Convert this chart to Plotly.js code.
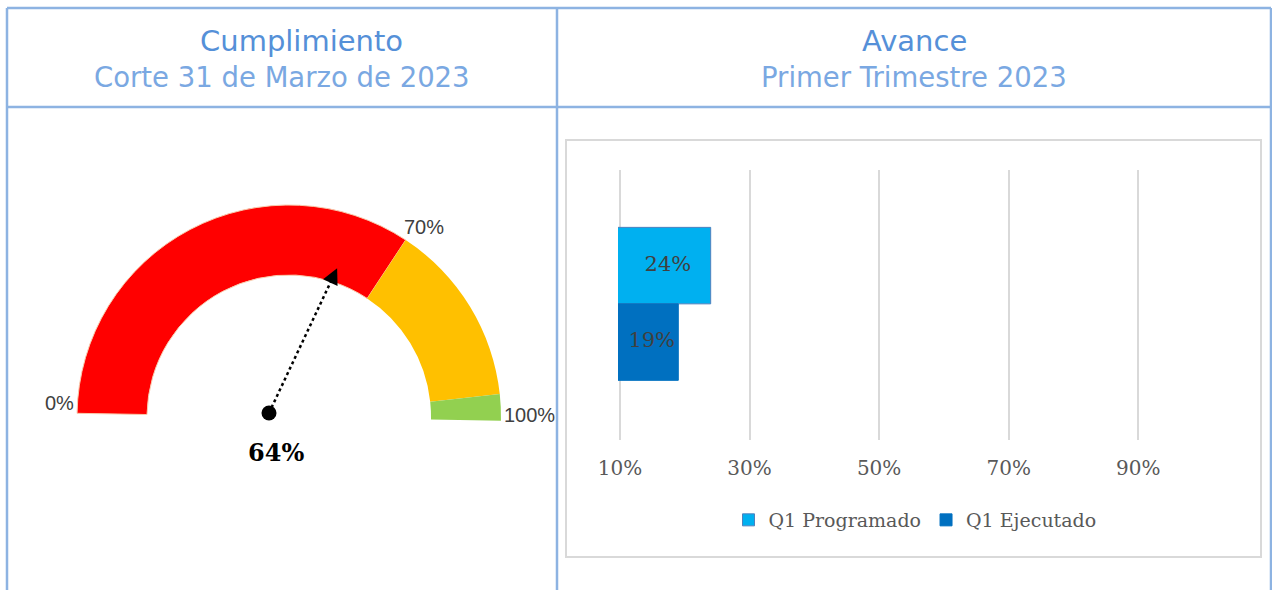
<!DOCTYPE html>
<html>
<head>
<meta charset="utf-8">
<script src="https://cdn.plot.ly/plotly-3.0.1.min.js"></script>
<style>
  html, body { margin: 0; padding: 0; background: #fff; overflow: hidden; }
  #chart { width: 1272px; height: 640px; }
</style>
</head>
<body>
<div id="chart"></div>
<script>
// gauge data (left cell)
let gaugeBands = ['Bajo', 'Medio', 'Alto'];
let gaugeValues = [68, 28, 4];
let gaugeColors = ['#ff0000', '#ffc000', '#92d050'];
let gaugeLabels = ['0%', '70%', '100%'];
let cumplimiento = 0.64;

// bar data (right cell)
let series = ['Q1 Programado', 'Q1 Ejecutado'];
let avance = [0.24, 0.19];
let barColors = ['#00b0f0', '#0070c0'];
let xTicks = [0.1, 0.3, 0.5, 0.7, 0.9];

let W = 1272, H = 640;
function px(x) { return x / W; }
function py(y) { return 1 - y / H; }

let border = '#8db3e2';
let xMin = 0.1;
let xLo = 0.097; // a hair below 10% so the first gridline is kept

// ---- gauge as a half pie ----
let total = gaugeValues.reduce((a, b) => a + b, 0);
let gauge = {
    type: 'pie',
    labels: gaugeBands.concat(['']),
    values: gaugeValues.concat([total]),
    marker: {
        colors: gaugeColors.concat(['rgba(0,0,0,0)']),
        line: { color: ['#f8cbad', 'rgba(0,0,0,0)', 'rgba(0,0,0,0)', 'rgba(0,0,0,0)'], width: [1, 0, 0, 0] }
    },
    hole: 0.67,
    sort: false,
    direction: 'clockwise',
    rotation: -89,
    textinfo: 'none',
    hoverinfo: 'skip',
    showlegend: false,
    domain: { x: [px(77), px(501)], y: [py(629), py(205)] }
};

// needle pivot (pixel-like hidden axes x2/y2)
let pivot = [269, 413];
let theta = Math.PI * (1 - cumplimiento);
let len = 160;
let tip = [pivot[0] + len * Math.cos(theta), pivot[1] - len * Math.sin(theta)];
let back = [pivot[0] + (len - 12) * Math.cos(theta), pivot[1] - (len - 12) * Math.sin(theta)];

let dot = {
    type: 'scatter', mode: 'markers',
    x: [pivot[0]], y: [pivot[1]],
    xaxis: 'x2', yaxis: 'y2',
    marker: { size: 15, color: '#000' },
    cliponaxis: false, hoverinfo: 'skip', showlegend: false
};

// ---- bars ----
let bars = series.map((name, i) => ({
    type: 'bar',
    orientation: 'h',
    name: name,
    x: [avance[i]],
    y: [1 - i],
    width: 1,
    marker: { color: barColors[i], line: { color: i == 0 ? '#4f81bd' : barColors[i], width: 1 } },
    hoverinfo: 'skip'
}));

let barText = {
    type: 'scatter', mode: 'text',
    x: avance.map(v => (xMin + v) / 2 + 0.004),
    y: series.map((s, i) => 1 - i),
    text: avance.map(v => Math.round(v * 100) + '%'),
    textfont: { family: 'DejaVu Serif', size: 21, color: '#404040' },
    cliponaxis: false, hoverinfo: 'skip', showlegend: false
};

let data = [gauge, ...bars, barText, dot];

// ---- frame lines ----
let shapes = [];
function line(x0, y0, x1, y1, color, width) {
    shapes.push({ type: 'line', xref: 'paper', yref: 'paper', x0: px(x0), y0: py(y0), x1: px(x1), y1: py(y1),
        line: { color: color, width: width } });
}
line(7, 8, 1271, 8, border, 2.5);
line(7, 107, 1271, 107, border, 2.5);
line(7, 8, 7, 640, border, 2.5);
line(557, 8, 557, 640, border, 2.5);
line(1271, 8, 1271, 640, border, 2.5);
shapes.push({ type: 'rect', xref: 'paper', yref: 'paper', x0: px(566), y0: py(557), x1: px(1261), y1: py(140),
    line: { color: '#d9d9d9', width: 2 }, layer: 'below' });
// needle
shapes.push({ type: 'line', xref: 'x2', yref: 'y2', x0: pivot[0], y0: pivot[1], x1: back[0], y1: back[1],
    line: { color: '#000', width: 2.5, dash: 'dot' }, layer: 'above' });

// ---- texts ----
let annotations = [];
function label(text, x, y, font, anchor) {
    annotations.push({ text: text, x: px(x), y: py(y), xref: 'paper', yref: 'paper', showarrow: false,
        xanchor: anchor || 'center', yanchor: 'middle', font: font });
}
let titleFont = { family: 'DejaVu Sans', size: 29, color: '#5590d8' };
let subFont = { family: 'DejaVu Sans', size: 27.5, color: '#7aa8e2' };
label('Cumplimiento', 301, 41, titleFont);
label('Corte 31 de Marzo de 2023', 282, 77, subFont);
label('Avance', 914, 41, titleFont);
label('Primer Trimestre 2023', 914, 77, subFont);

let gFont = { family: 'Liberation Sans', size: 20, color: '#404040' };
label(gaugeLabels[0], 76, 403, gFont, 'right');
label(gaugeLabels[1], 402, 227, gFont, 'left');
label(gaugeLabels[2], 502, 415, gFont, 'left');
label('<b>' + Math.round(cumplimiento * 100) + '%</b>', 276, 452, { family: 'DejaVu Serif', size: 24, color: '#000' });

annotations.push({ text: '', xref: 'x2', yref: 'y2', axref: 'x2', ayref: 'y2',
    x: tip[0], y: tip[1], ax: back[0], ay: back[1], showarrow: true,
    arrowhead: 2, arrowsize: 1.6, arrowwidth: 2, arrowcolor: '#000', standoff: 0 });

let pxPerUnit = (1203 - 620) / (1.0 - xMin);
let layout = {
    width: W, height: H,
    margin: { l: 0, r: 0, t: 0, b: 0 },
    paper_bgcolor: '#fff',
    plot_bgcolor: 'rgba(0,0,0,0)',
    barmode: 'overlay',
    xaxis: {
        domain: [px(620 - (xMin - xLo) * pxPerUnit), px(1203)], range: [xLo, 1.0],
        tickvals: xTicks, tickformat: '.0%',
        showgrid: true, gridcolor: '#d9d9d9', gridwidth: 2,
        zeroline: false, showline: false, ticks: '',
        ticklabelstandoff: 14,
        tickfont: { family: 'DejaVu Serif', size: 20, color: '#595959' },
        fixedrange: true
    },
    yaxis: {
        domain: [py(440), py(170)], range: [-1.28, 2.25],
        visible: false, fixedrange: true
    },
    xaxis2: { domain: [0, 1], range: [0, W], visible: false, anchor: 'y2', fixedrange: true },
    yaxis2: { domain: [0, 1], range: [H, 0], visible: false, anchor: 'x2', fixedrange: true },
    showlegend: true,
    legend: {
        orientation: 'h', x: px(915), y: py(520), xanchor: 'center', yanchor: 'middle',
        font: { family: 'DejaVu Serif', size: 19, color: '#595959' },
        bgcolor: 'rgba(0,0,0,0)'
    },
    shapes: shapes,
    annotations: annotations
};

Plotly.newPlot('chart', data, layout, { staticPlot: true, displayModeBar: false });
</script>
</body>
</html>
